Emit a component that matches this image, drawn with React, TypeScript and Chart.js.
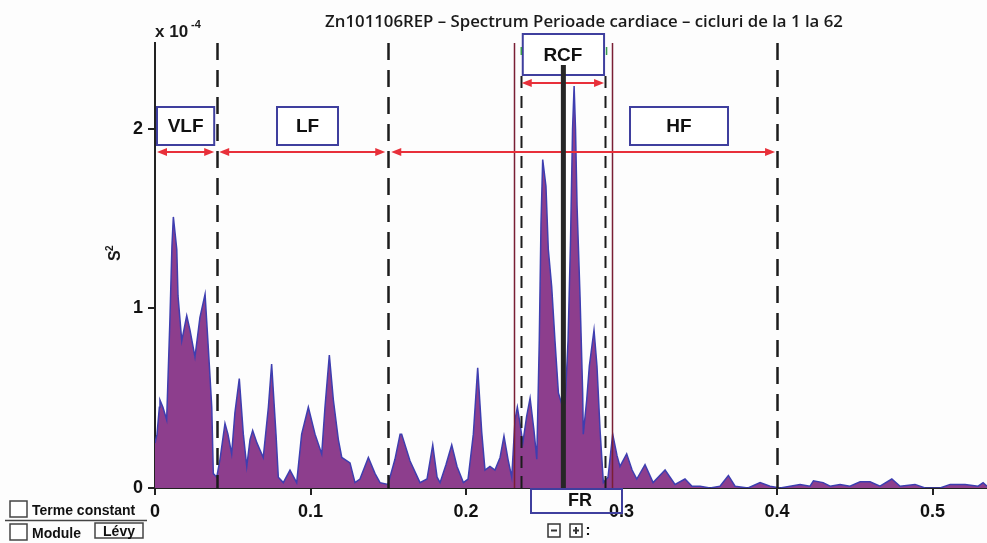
import React, { useEffect, useRef } from "react";
import { Chart, registerables } from "chart.js";

Chart.register(...registerables);

// Frequency (Hz) of each spectrum vertex
const frequency = [
  0, 0.0013, 0.0028, 0.0032, 0.0051, 0.0075, 0.0096, 0.0109, 0.0118, 0.014, 0.0148,
  0.0172, 0.0204, 0.0225, 0.0257, 0.0289, 0.0322, 0.0349, 0.0365, 0.0375, 0.0397,
  0.0418, 0.045, 0.0469, 0.0493, 0.0514, 0.0542, 0.0568, 0.059, 0.0611, 0.0628,
  0.0656, 0.0696, 0.0729, 0.075, 0.0778, 0.0793, 0.0825, 0.0868, 0.0911, 0.0943,
  0.0986, 0.1029, 0.1072, 0.1093, 0.1121, 0.1147, 0.1179, 0.1201, 0.1254, 0.1286,
  0.1318, 0.1372, 0.1415, 0.1447, 0.1498, 0.1543, 0.1576, 0.1586, 0.164, 0.1704,
  0.1749, 0.1786, 0.1814, 0.1833, 0.1871, 0.1908, 0.1942, 0.1983, 0.2013, 0.2047,
  0.2075, 0.2101, 0.2122, 0.2154, 0.2186, 0.2219, 0.2244, 0.227, 0.2294, 0.2315,
  0.233, 0.2347, 0.2365, 0.239, 0.2412, 0.2437, 0.2455, 0.2471, 0.2482, 0.2493,
  0.2514, 0.2529, 0.2551, 0.2572, 0.2594, 0.2615, 0.2637, 0.2656, 0.2672, 0.2685,
  0.2695, 0.2704, 0.2714, 0.2733, 0.275, 0.2754, 0.2776, 0.2793, 0.2823, 0.2842,
  0.2862, 0.2883, 0.2913, 0.2943, 0.2971, 0.299, 0.3033, 0.3068, 0.3098, 0.3151,
  0.3203, 0.328, 0.3344, 0.3408, 0.3453, 0.3505, 0.3569, 0.3633, 0.3687, 0.373,
  0.3813, 0.3891, 0.3955, 0.4019, 0.4084, 0.4148, 0.4212, 0.4234, 0.4296, 0.4341,
  0.4405, 0.4469, 0.4534, 0.4598, 0.4662, 0.4738, 0.4791, 0.4887, 0.4952, 0.5048,
  0.5113, 0.5209, 0.5293, 0.5325, 0.535,
];

// Power spectral density (x 10^-4 s^2)
const power = [
  0.25, 0.3, 0.45, 0.49, 0.45, 0.38, 0.94, 1.35, 1.51, 1.33, 1.07,
  0.82, 0.96, 0.88, 0.73, 0.95, 1.08, 0.69, 0.45, 0.08, 0.06,
  0.16, 0.36, 0.3, 0.19, 0.42, 0.61, 0.3, 0.12, 0.27, 0.32,
  0.25, 0.17, 0.45, 0.69, 0.3, 0.06, 0.03, 0.1, 0.03, 0.3,
  0.45, 0.3, 0.19, 0.45, 0.74, 0.49, 0.27, 0.17, 0.14, 0.03,
  0.05, 0.17, 0.08, 0.03, 0.02, 0.16, 0.3, 0.3, 0.15, 0.03,
  0.05, 0.24, 0.06, 0.03, 0.13, 0.24, 0.12, 0.03, 0.05, 0.3,
  0.67, 0.31, 0.1, 0.12, 0.1, 0.17, 0.29, 0.16, 0.06, 0.38,
  0.45, 0.36, 0.25, 0.4, 0.5, 0.32, 0.16, 0.82, 1.47, 1.83,
  1.68, 1.33, 1.12, 0.82, 0.53, 0.47, 0.47, 0.82, 1.38, 2.0,
  2.24, 2.0, 1.57, 1.07, 0.53, 0.3, 0.49, 0.68, 0.88, 0.68,
  0.32, 0.03, 0.06, 0.3, 0.18, 0.12, 0.19, 0.1, 0.05, 0.13,
  0.03, 0.1, 0.02, 0.05, 0.01, 0.01, 0.0, 0.01, 0.07, 0.01,
  0.0, 0.03, 0.01, 0.0, 0.01, 0.02, 0.01, 0.04, 0.03, 0.01,
  0.02, 0.01, 0.035, 0.035, 0.01, 0.05, 0.01, 0.02, 0.0, 0.0,
  0.02, 0.02, 0.01, 0.03, 0.01,
];

const xTickValues = [0, 0.1, 0.2, 0.3, 0.4, 0.5];
const yTickValues = [0, 1, 2];

const bandLabels = ["VLF", "LF", "HF"];
const bandLimits = [0, 0.04, 0.15, 0.4];
const rcfInner = [0.2352, 0.2894];
const rcfOuter = [0.2309, 0.2937];
const rcfCenter = 0.2626;

const titleText = "Zn101106REP \u2013 Spectrum Perioade cardiace \u2013 cicluri de la 1 la 62";

const BOLD = "bold 18px 'Liberation Sans', Arial, sans-serif";

function arrow(ctx: CanvasRenderingContext2D, x1: number, x2: number, y: number) {
  const hl = 10;
  const hw = 4;
  ctx.beginPath();
  ctx.moveTo(x1 + hl - 1, y);
  ctx.lineTo(x2 - hl + 1, y);
  ctx.stroke();
  ctx.beginPath();
  ctx.moveTo(x1, y);
  ctx.lineTo(x1 + hl, y - hw);
  ctx.lineTo(x1 + hl, y + hw);
  ctx.closePath();
  ctx.fill();
  ctx.beginPath();
  ctx.moveTo(x2, y);
  ctx.lineTo(x2 - hl, y - hw);
  ctx.lineTo(x2 - hl, y + hw);
  ctx.closePath();
  ctx.fill();
}

function vline(ctx: CanvasRenderingContext2D, x: number, y1: number, y2: number) {
  ctx.beginPath();
  ctx.moveTo(x, y1);
  ctx.lineTo(x, y2);
  ctx.stroke();
}

function box(ctx: CanvasRenderingContext2D, x1: number, y1: number, x2: number, y2: number, fill: boolean) {
  if (fill) {
    ctx.fillStyle = "#ffffff";
    ctx.fillRect(x1, y1, x2 - x1, y2 - y1);
  }
  ctx.strokeRect(x1, y1, x2 - x1, y2 - y1);
}

const overlayPlugin = {
  id: "overlay",
  afterDraw(chart: any) {
    const ctx: CanvasRenderingContext2D = chart.ctx;
    const xs = chart.scales.x;
    const top = chart.chartArea.top;
    const bottom = chart.chartArea.bottom;
    const X = (f: number) => xs.getPixelForValue(f);
    ctx.save();

    // band limits (dashed)
    ctx.strokeStyle = "#1c1c1c";
    ctx.lineWidth = 2.5;
    ctx.setLineDash([17, 10]);
    for (const f of bandLimits.slice(1)) vline(ctx, Math.round(X(f)) + 0.5, top, bottom);

    // RCF window
    ctx.lineWidth = 2;
    ctx.setLineDash([12, 8]);
    for (const f of rcfInner) vline(ctx, Math.round(X(f)) + 0.5, 76, bottom);
    ctx.setLineDash([]);
    ctx.strokeStyle = "#7a1f35";
    ctx.lineWidth = 1.5;
    for (const f of rcfOuter) vline(ctx, Math.round(X(f)) + 0.5, top, bottom);

    // band label boxes
    ctx.strokeStyle = "#3f3f9e";
    ctx.lineWidth = 2;
    const bx = [
      [X(bandLimits[0]) + 2, X(bandLimits[1]) - 3],
      [277, 338],
      [630, 728],
    ];
    ctx.font = "bold 19px 'Liberation Sans', Arial, sans-serif";
    ctx.textAlign = "center";
    ctx.textBaseline = "middle";
    bandLabels.forEach((lab, i) => {
      box(ctx, bx[i][0], 107, bx[i][1], 145, true);
      ctx.fillStyle = "#111";
      ctx.fillText(lab, (bx[i][0] + bx[i][1]) / 2, 127);
    });

    // RCF box
    ctx.strokeStyle = "#3f3f9e";
    box(ctx, X(rcfInner[0]) + 2, 34, X(rcfInner[1]) - 1, 75, true);
    ctx.fillStyle = "#111";
    ctx.fillText("RCF", (X(rcfInner[0]) + X(rcfInner[1])) / 2, 56);
    ctx.strokeStyle = "#3a9a4a";
    ctx.lineWidth = 1.5;
    vline(ctx, X(rcfInner[0]) + 0.5, 47, 55);
    vline(ctx, X(rcfInner[1]) + 1.5, 47, 55);

    // red arrows
    ctx.strokeStyle = "#e8303a";
    ctx.fillStyle = "#e8303a";
    ctx.lineWidth = 2;
    arrow(ctx, X(bandLimits[0]) + 2, X(bandLimits[1]) - 3, 152);
    arrow(ctx, X(bandLimits[1]) + 2, X(bandLimits[2]) - 3, 152);
    arrow(ctx, X(bandLimits[2]) + 3, X(bandLimits[3]) - 2, 152);
    arrow(ctx, X(rcfInner[0]) + 1, X(rcfInner[1]) - 1, 83);

    // central frequency marker
    ctx.strokeStyle = "#262626";
    ctx.lineWidth = 5;
    vline(ctx, X(rcfCenter), 65, bottom);

    // FR box
    ctx.strokeStyle = "#3f3f9e";
    ctx.lineWidth = 2;
    box(ctx, 531, 489, 622, 513, false);
    ctx.fillStyle = "#111";
    ctx.font = BOLD;
    ctx.fillText("FR", 580, 501);

    // title
    ctx.font = "600 16.8px 'Open Sans', sans-serif";
    ctx.fillStyle = "#1a1a1a";
    ctx.fillText(titleText, 584, 22);

    // exponent
    ctx.textAlign = "left";
    ctx.font = "bold 17px 'Liberation Sans', Arial, sans-serif";
    ctx.fillText("x 10", 155, 32);
    ctx.font = "bold 11px 'Liberation Sans', Arial, sans-serif";
    ctx.fillText("-4", 191, 25);

    // y axis title
    ctx.save();
    ctx.translate(116, 256);
    ctx.rotate(-Math.PI / 2);
    ctx.font = "bold 16px 'Liberation Sans', Arial, sans-serif";
    ctx.fillText("S", -5, 0);
    ctx.font = "bold 10px 'Liberation Sans', Arial, sans-serif";
    ctx.fillText("2", 5, -6);
    ctx.restore();

    // bottom-left controls
    ctx.strokeStyle = "#444";
    ctx.lineWidth = 1.5;
    ctx.fillStyle = "#fff";
    ctx.fillRect(10, 501, 17, 16);
    ctx.strokeRect(10, 501, 17, 16);
    ctx.fillRect(10, 524, 17, 16);
    ctx.strokeRect(10, 524, 17, 16);
    ctx.beginPath();
    ctx.moveTo(5, 520.5);
    ctx.lineTo(147, 520.5);
    ctx.stroke();
    ctx.fillStyle = "#111";
    ctx.font = "bold 14px 'Liberation Sans', Arial, sans-serif";
    ctx.textBaseline = "alphabetic";
    ctx.fillText("Terme constant", 32, 515);
    ctx.fillText("Module", 32, 538);
    ctx.strokeRect(95, 523, 48, 15);
    ctx.textAlign = "center";
    ctx.fillText("L\u00e9vy", 119, 536);

    // - + buttons
    ctx.strokeStyle = "#333";
    ctx.lineWidth = 1.5;
    ctx.strokeRect(548, 524, 12, 13);
    ctx.strokeRect(570, 524, 12, 13);
    ctx.lineWidth = 2;
    ctx.beginPath();
    ctx.moveTo(551, 530.5);
    ctx.lineTo(557, 530.5);
    ctx.moveTo(573, 530.5);
    ctx.lineTo(579, 530.5);
    ctx.moveTo(576, 527);
    ctx.lineTo(576, 534);
    ctx.stroke();
    ctx.font = "bold 15px 'Liberation Sans', Arial, sans-serif";
    ctx.fillText(":", 588, 535);

    ctx.restore();
  },
};

export default function App() {
  const ref = useRef<HTMLCanvasElement | null>(null);

  useEffect(() => {
    if (!ref.current) return;
    const data = frequency.map((f, i) => ({ x: f, y: power[i] }));
    const chart = new Chart(ref.current, {
      type: "line",
      data: {
        datasets: [
          {
            data,
            fill: "origin",
            backgroundColor: "#8d3e8d",
            borderColor: "#3e3eb0",
            borderWidth: 1.5,
            pointRadius: 0,
            tension: 0,
          },
        ],
      },
      options: {
        animation: false,
        responsive: false,
        devicePixelRatio: 1,
        layout: { padding: { top: 43, left: 0, right: 0, bottom: 0 } },
        plugins: { legend: { display: false }, tooltip: { enabled: false }, title: { display: false } },
        scales: {
          x: {
            type: "linear",
            min: 0,
            max: 0.535,
            afterFit: (s: any) => {
              s.height = 55;
            },
            afterBuildTicks: (s: any) => {
              s.ticks = xTickValues.map((v) => ({ value: v }));
            },
            grid: { drawOnChartArea: false, tickLength: 7, color: "#222", lineWidth: 2 },
            border: { color: "#222", width: 2 },
            ticks: {
              color: "#111",
              padding: 6,
              maxRotation: 0,
              autoSkip: false,
              font: { family: "'Liberation Sans', Arial, sans-serif", size: 18, weight: "bold" },
              callback: (v: any) => (v === 0 ? "0" : String(Number(v).toFixed(1))),
            },
          },
          y: {
            type: "linear",
            min: 0,
            max: 2.479,
            afterFit: (s: any) => {
              s.width = 155;
            },
            afterBuildTicks: (s: any) => {
              s.ticks = yTickValues.map((v) => ({ value: v }));
            },
            grid: { drawOnChartArea: false, tickLength: 7, color: "#222", lineWidth: 2 },
            border: { color: "#222", width: 2 },
            ticks: {
              color: "#111",
              padding: 5,
              font: { family: "'Liberation Sans', Arial, sans-serif", size: 18, weight: "bold" },
              callback: (v: any) => String(v),
            },
          },
        },
      },
      plugins: [overlayPlugin],
    });
    return () => chart.destroy();
  }, []);

  return (
    <div style={{ position: "absolute", left: 0, top: 0, width: 987, height: 543, background: "#fdfdfd" }}>
      <canvas ref={ref} width={987} height={543} style={{ display: "block", width: 987, height: 543 }} />
    </div>
  );
}
